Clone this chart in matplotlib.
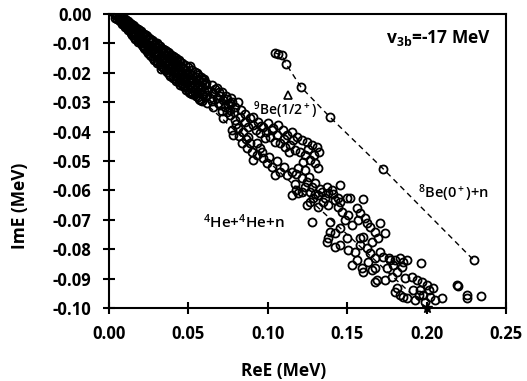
import numpy as np
import matplotlib
matplotlib.use("Agg")
import matplotlib.pyplot as plt
from matplotlib.ticker import FormatStrFormatter, MultipleLocator

plt.rcParams['font.family'] = ['Open Sans', 'DejaVu Sans']
plt.rcParams['axes.unicode_minus'] = False
plt.rcParams['mathtext.fontset'] = 'custom'
plt.rcParams['mathtext.rm'] = 'Open Sans:semibold'
plt.rcParams['mathtext.bf'] = 'Open Sans:bold'
plt.rcParams['mathtext.it'] = 'Open Sans:italic'

# 4He+4He+n continuum, dense part near the origin (ReE, ImE) in MeV
band_origin = [
    (0.004, -0.0003), (0.004, -0.0012), (0.005, -0.0004), (0.005, -0.0016),
    (0.006, -0.0006), (0.006, -0.0020), (0.007, -0.0009), (0.007, -0.0024),
    (0.008, -0.0011), (0.008, -0.0022), (0.008, -0.0033), (0.009, -0.0014),
    (0.009, -0.0030), (0.010, -0.0017), (0.010, -0.0031), (0.010, -0.0044),
    (0.011, -0.0021), (0.011, -0.0038), (0.012, -0.0025), (0.012, -0.0042),
    (0.012, -0.0055), (0.013, -0.0029), (0.013, -0.0049), (0.014, -0.0033),
    (0.014, -0.0051), (0.014, -0.0066), (0.015, -0.0037), (0.015, -0.0058),
    (0.016, -0.0041), (0.016, -0.0062), (0.016, -0.0078), (0.017, -0.0046),
    (0.017, -0.0069), (0.018, -0.0050), (0.018, -0.0073), (0.018, -0.0090),
    (0.019, -0.0055), (0.019, -0.0080), (0.020, -0.0058), (0.020, -0.0082),
    (0.020, -0.0100), (0.0215, -0.0110), (0.021, -0.0063), (0.021, -0.0088),
    (0.022, -0.0067), (0.022, -0.0094), (0.022, -0.0114), (0.023, -0.0072),
    (0.023, -0.0100), (0.024, -0.0075), (0.024, -0.0104), (0.024, -0.0126),
    (0.025, -0.0080), (0.025, -0.0110), (0.026, -0.0084), (0.026, -0.0113),
    (0.026, -0.0138), (0.027, -0.0089), (0.027, -0.0120), (0.028, -0.0092),
    (0.028, -0.0124), (0.028, -0.0150), (0.029, -0.0097), (0.029, -0.0131),
    (0.030, -0.0100), (0.030, -0.0134), (0.030, -0.0160), (0.031, -0.0106),
    (0.031, -0.0141), (0.032, -0.0109), (0.032, -0.0145), (0.032, -0.0170),
    (0.033, -0.0114), (0.033, -0.0152), (0.033, -0.0186), (0.034, -0.0118),
    (0.034, -0.0155), (0.034, -0.0180), (0.035, -0.0123), (0.035, -0.0162),
    (0.036, -0.0126), (0.036, -0.0165), (0.036, -0.0192), (0.037, -0.0131),
    (0.037, -0.0172), (0.038, -0.0134), (0.038, -0.0175), (0.038, -0.0203),
    (0.039, -0.0139), (0.039, -0.0181), (0.040, -0.0142), (0.040, -0.0180),
    (0.040, -0.0210), (0.041, -0.0147), (0.041, -0.0190), (0.042, -0.0150),
    (0.042, -0.0188), (0.042, -0.0220), (0.043, -0.0155), (0.043, -0.0198),
    (0.044, -0.0158), (0.044, -0.0196), (0.044, -0.0230), (0.045, -0.0163),
    (0.045, -0.0206), (0.045, -0.0225), (0.046, -0.0166), (0.046, -0.0205),
    (0.046, -0.0238), (0.048, -0.0174), (0.048, -0.0212), (0.048, -0.0233),
    (0.048, -0.0248), (0.050, -0.0182), (0.050, -0.0220), (0.050, -0.0256),
    (0.051, -0.0224), (0.052, -0.0190), (0.052, -0.0230), (0.052, -0.0264),
    (0.054, -0.0198), (0.054, -0.0238), (0.054, -0.0272), (0.056, -0.0206),
    (0.056, -0.0246), (0.056, -0.0282), (0.058, -0.0214), (0.058, -0.0256),
    (0.060, -0.0222), (0.060, -0.0262),
]

# more circles packed in the same solid stretch of the band
band_origin_fill = [
    (0.0105, -0.0026), (0.0105, -0.0042), (0.0125, -0.0034), (0.0125, -0.0050),
    (0.0145, -0.0042), (0.0145, -0.0060), (0.0145, -0.0072), (0.0165, -0.0052),
    (0.0165, -0.0070), (0.0165, -0.0084), (0.0185, -0.0060), (0.0185, -0.0080),
    (0.0185, -0.0095), (0.0205, -0.0070), (0.0205, -0.0090), (0.0205, -0.0106),
    (0.0225, -0.0078), (0.0225, -0.0100), (0.0225, -0.0120), (0.0245, -0.0088),
    (0.0245, -0.0112), (0.0245, -0.0132), (0.0265, -0.0096), (0.0265, -0.0122),
    (0.0265, -0.0144), (0.0285, -0.0106), (0.0285, -0.0132), (0.0285, -0.0156),
    (0.0305, -0.0114), (0.0305, -0.0142), (0.0305, -0.0166), (0.0325, -0.0124),
    (0.0325, -0.0152), (0.0325, -0.0178), (0.0345, -0.0132), (0.0345, -0.0162),
    (0.0345, -0.0188), (0.0365, -0.0142), (0.0365, -0.0172), (0.0365, -0.0198),
    (0.0385, -0.0150), (0.0385, -0.0186), (0.0385, -0.0210), (0.0405, -0.0160),
    (0.0405, -0.0196), (0.0405, -0.0218), (0.0425, -0.0168), (0.0425, -0.0206),
    (0.0425, -0.0228), (0.0445, -0.0176), (0.0445, -0.0214), (0.0445, -0.0240),
    (0.0465, -0.0184), (0.0465, -0.0222), (0.0465, -0.0246), (0.0485, -0.0192),
    (0.0485, -0.0230), (0.0485, -0.0258), (0.0505, -0.0200), (0.0505, -0.0240),
    (0.0505, -0.0265), (0.0525, -0.0208), (0.0525, -0.0250), (0.0525, -0.0272),
    (0.0545, -0.0215), (0.0545, -0.0258), (0.0545, -0.0280), (0.0565, -0.0224),
    (0.0565, -0.0266), (0.0565, -0.0288), (0.0585, -0.0232), (0.0585, -0.0272),
    (0.0585, -0.0296), (0.0605, -0.0240), (0.0605, -0.0282),
]

# 4He+4He+n continuum, middle of the band
band_middle = [
    (0.0447, -0.0219), (0.0478, -0.0242), (0.0510, -0.0270), (0.0594, -0.0276),
    (0.0657, -0.0270), (0.0709, -0.0264), (0.0688, -0.0304), (0.0730, -0.0315),
    (0.0657, -0.0315), (0.0615, -0.0304), (0.0573, -0.0293), (0.0531, -0.0247),
    (0.0594, -0.0225), (0.0646, -0.0242), (0.0678, -0.0253), (0.0720, -0.0293),
    (0.0762, -0.0304), (0.0793, -0.0315), (0.0552, -0.0202), (0.0489, -0.0202),
    (0.0426, -0.0179), (0.0384, -0.0168), (0.0510, -0.0176), (0.0625, -0.0260),
    (0.0700, -0.0280), (0.0745, -0.0290), (0.0680, -0.0285), (0.0635, -0.0285),
    (0.0760, -0.0325), (0.0710, -0.0330), (0.0775, -0.0300),
    (0.0720, -0.0355), (0.0762, -0.0343), (0.0793, -0.0361), (0.0825, -0.0349),
    (0.0856, -0.0366), (0.0888, -0.0355), (0.0909, -0.0378), (0.0940, -0.0366),
    (0.0972, -0.0383), (0.1003, -0.0372), (0.1035, -0.0389), (0.1066, -0.0378),
    (0.1098, -0.0395), (0.1119, -0.0412), (0.1150, -0.0400), (0.1182, -0.0417),
    (0.1213, -0.0429), (0.1245, -0.0434), (0.1276, -0.0446), (0.1308, -0.0451),
    (0.0783, -0.0412), (0.0772, -0.0395), (0.0814, -0.0389), (0.0846, -0.0400),
    (0.0877, -0.0417), (0.0951, -0.0406), (0.0982, -0.0423), (0.1014, -0.0417),
    (0.1045, -0.0434), (0.1077, -0.0440), (0.1108, -0.0451), (0.1140, -0.0446),
    (0.1171, -0.0463), (0.1203, -0.0468), (0.1234, -0.0480), (0.1224, -0.0502),
    (0.1266, -0.0497), (0.1297, -0.0508), (0.1318, -0.0525),
    (0.0835, -0.0440), (0.0867, -0.0457), (0.0898, -0.0468), (0.0930, -0.0480),
    (0.0909, -0.0497), (0.0972, -0.0491), (0.0993, -0.0508), (0.1024, -0.0519),
    (0.1045, -0.0548), (0.1077, -0.0536), (0.1119, -0.0548), (0.1150, -0.0536),
    (0.1213, -0.0559), (0.1192, -0.0525), (0.1234, -0.0531), (0.0951, -0.0457),
    (0.0560, -0.0225), (0.0585, -0.0250), (0.0610, -0.0235), (0.0620, -0.0275),
    (0.0650, -0.0295), (0.0665, -0.0255), (0.0695, -0.0265), (0.0700, -0.0310),
    (0.0735, -0.0278), (0.0740, -0.0335), (0.0750, -0.0305), (0.0770, -0.0285),
    (0.0790, -0.0335), (0.0800, -0.0375), (0.0810, -0.0300), (0.0820, -0.0415),
    (0.0830, -0.0325), (0.0855, -0.0340), (0.0860, -0.0425), (0.0875, -0.0385),
    (0.0890, -0.0440), (0.0905, -0.0350), (0.0925, -0.0395), (0.0930, -0.0440),
    (0.0955, -0.0380), (0.0965, -0.0470), (0.0990, -0.0400), (0.1010, -0.0485),
    (0.1025, -0.0395), (0.1060, -0.0410), (0.1060, -0.0500), (0.1100, -0.0425),
    (0.1100, -0.0520), (0.1135, -0.0470), (0.1160, -0.0430), (0.1180, -0.0545),
    (0.1250, -0.0460), (0.1290, -0.0480), (0.1320, -0.0470), (0.1260, -0.0555),
]

# 4He+4He+n continuum, lower part of the band
band_lower = [
    (0.1172, -0.0579), (0.1245, -0.0570), (0.1277, -0.0587), (0.1298, -0.0576),
    (0.1371, -0.0587), (0.1455, -0.0582), (0.1403, -0.0599), (0.1340, -0.0604),
    (0.1266, -0.0604), (0.1214, -0.0604), (0.1151, -0.0616), (0.1193, -0.0610),
    (0.1319, -0.0616), (0.1382, -0.0610), (0.1518, -0.0627), (0.1501, -0.0627),
    (0.1602, -0.0629), (0.1287, -0.0627), (0.1361, -0.0627), (0.1424, -0.0633),
    (0.1455, -0.0638), (0.1245, -0.0650), (0.1319, -0.0655), (0.1382, -0.0650),
    (0.1445, -0.0655), (0.1466, -0.0672), (0.1560, -0.0661), (0.1581, -0.0678),
    (0.1508, -0.0684), (0.1613, -0.0695), (0.1571, -0.0701), (0.1529, -0.0718),
    (0.1455, -0.0729), (0.1392, -0.0740), (0.1424, -0.0746), (0.1277, -0.0709),
    (0.1392, -0.0706), (0.1487, -0.0701), (0.1623, -0.0712), (0.1644, -0.0723),
    (0.1707, -0.0710), (0.1676, -0.0740), (0.1739, -0.0746), (0.1697, -0.0763),
    (0.1655, -0.0774), (0.1602, -0.0757), (0.1581, -0.0763), (0.1497, -0.0763),
    (0.1455, -0.0786), (0.1382, -0.0763), (0.1371, -0.0774), (0.1424, -0.0791),
    (0.1508, -0.0803), (0.1550, -0.0808), (0.1581, -0.0786), (0.1623, -0.0797),
    (0.1644, -0.0814), (0.1560, -0.0837), (0.1529, -0.0854), (0.1592, -0.0865),
    (0.1634, -0.0842), (0.1676, -0.0831), (0.1707, -0.0808), (0.1728, -0.0825),
    (0.1760, -0.0831), (0.1676, -0.0865), (0.1655, -0.0871), (0.1602, -0.0876),
    (0.1749, -0.0865), (0.1770, -0.0837), (0.1802, -0.0837), (0.1833, -0.0831),
    (0.1854, -0.0842), (0.1875, -0.0837), (0.1844, -0.0859), (0.1812, -0.0876),
    (0.1791, -0.0854), (0.1781, -0.0893), (0.1739, -0.0905), (0.1686, -0.0905),
    (0.1676, -0.0910), (0.1865, -0.0899), (0.1907, -0.0893), (0.1938, -0.0905),
    (0.1970, -0.0910), (0.2001, -0.0922), (0.2043, -0.0933), (0.2012, -0.0939),
    (0.1959, -0.0939), (0.1949, -0.0956), (0.1980, -0.0956), (0.2022, -0.0962),
    (0.2053, -0.0973), (0.2096, -0.0967), (0.1917, -0.0939), (0.1875, -0.0967),
    (0.1854, -0.0962), (0.1928, -0.0973), (0.1991, -0.0979), (0.1816, -0.0933),
    (0.1802, -0.0945), (0.1833, -0.0956), (0.1965, -0.0846), (0.2190, -0.0922),
    (0.2195, -0.0925), (0.2253, -0.0956), (0.2253, -0.0967), (0.2343, -0.0958),
    (0.1235, -0.0590), (0.1330, -0.0595), (0.1410, -0.0612), (0.1180, -0.0600),
    (0.1265, -0.0640), (0.1350, -0.0640), (0.1440, -0.0625), (0.1300, -0.0612),
]

# 8Be(0+)+n trajectory
be8_x = [0.1046, 0.1065, 0.1088, 0.1115, 0.1208, 0.1390, 0.1727, 0.2296]
be8_y = [-0.0132, -0.0136, -0.0140, -0.0170, -0.0248, -0.0350, -0.0527, -0.0837]

# 9Be(1/2+) resonance
be9_x = [0.1127]
be9_y = [-0.0275]

# 4He+4He+n straight trajectory ending at the star
thr_x = [0.0, 0.2]
thr_y = [0.0, -0.1]

band = np.array(band_origin + band_origin_fill + band_middle + band_lower)

fig = plt.figure(figsize=(5.27, 3.81), dpi=100)
ax = fig.add_axes([0.2068, 0.1916, 0.7534, 0.7717])

ax.plot(thr_x, thr_y, color='black', lw=1.0, dashes=(4, 3))
ax.plot(band[:, 0], band[:, 1], 'o', mfc='none', mec='black', ms=5.8, mew=1.3)
ax.plot(be8_x, be8_y, 'o', mfc='none', mec='black', ms=5.8, mew=1.3,
        ls='--', color='black', lw=1.0, dashes=(4, 3))
ax.plot(be9_x, be9_y, '^', mfc='none', mec='black', ms=6, mew=1.2)
ax.plot(thr_x[-1:], thr_y[-1:], '*', color='black', ms=8, clip_on=False, zorder=5)

ax.set_xlim(0, 0.25)
ax.set_ylim(-0.10, 0.0)
ax.xaxis.set_major_locator(MultipleLocator(0.05))
ax.yaxis.set_major_locator(MultipleLocator(0.01))
ax.xaxis.set_major_formatter(FormatStrFormatter('%.2f'))
ax.yaxis.set_major_formatter(FormatStrFormatter('%.2f'))
ax.tick_params(direction='inout', length=9, width=1.5, labelsize=12, pad=8)
for lab in ax.get_xticklabels() + ax.get_yticklabels():
    lab.set_fontweight('bold')
for sp in ax.spines.values():
    sp.set_linewidth(1.5)

ax.set_xlabel('ReE (MeV)', fontsize=12.5, fontweight='bold')
ax.set_ylabel('ImE (MeV)', fontsize=12.5, fontweight='bold')
ax.xaxis.set_label_coords(0.44, -0.184)
ax.yaxis.set_label_coords(-0.2015, 0.347)

ax.text(0.0847, -0.0706, r'$\mathrm{^4}$He+$\mathrm{^4}$He+n', fontsize=11,
        fontweight='semibold', ha='center', va='center')
ax.text(0.1111, -0.0327, r'$\mathrm{^9}$Be(1/2$\mathrm{^+}$)', fontsize=10,
        fontweight='semibold', ha='center', va='center')
ax.text(0.2169, -0.0608, r'$\mathrm{^8}$Be(0$\mathrm{^+}$)+n', fontsize=10.5,
        fontweight='semibold', ha='center', va='center')
ax.text(0.2072, -0.0083, r'v$\mathbf{_{3b}}$=-17 MeV', fontsize=12.5,
        fontweight='bold', ha='center', va='center')

fig.savefig('out.png', dpi=100)
